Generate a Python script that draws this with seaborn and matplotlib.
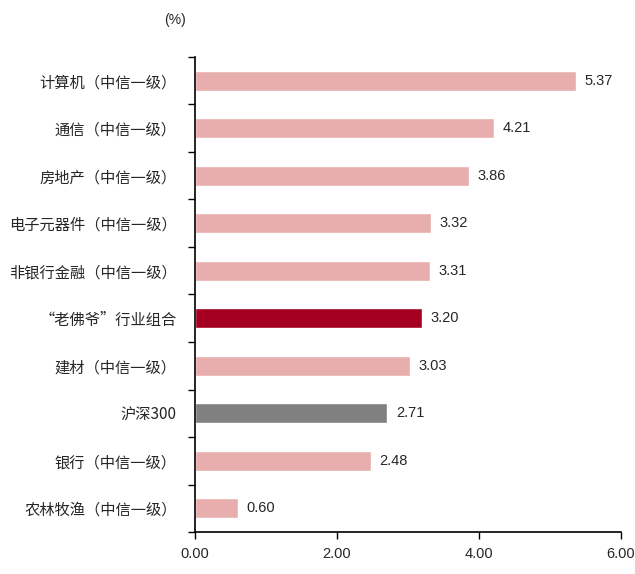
import matplotlib
matplotlib.use("Agg")
import matplotlib.pyplot as plt
import seaborn as sns
import pandas as pd
import numpy as np
from matplotlib.ticker import FixedLocator

sns.set_theme(style="white")
plt.rcParams['font.family'] = ['Noto Sans CJK SC', 'DejaVu Sans']

categories = ["计算机（中信一级）", "通信（中信一级）", "房地产（中信一级）", "电子元器件（中信一级）",
              "非银行金融（中信一级）", "“老佛爷”行业组合", "建材（中信一级）", "沪深300",
              "银行（中信一级）", "农林牧渔（中信一级）"]
values = [5.37, 4.21, 3.86, 3.32, 3.31, 3.20, 3.03, 2.71, 2.48, 0.60]
xticks = [0, 2, 4, 6]

pink, red, gray = "#E8ADAD", "#A50021", "#808080"
palette = {c: pink for c in categories}
palette["“老佛爷”行业组合"] = red
palette["沪深300"] = gray

df = pd.DataFrame({"cat": categories, "val": values})

fig = plt.figure(figsize=(6.35, 5.74), dpi=100)
ax = fig.add_axes([0.307, 0.073, 0.671, 0.828])
sns.barplot(data=df, x="val", y="cat", hue="cat", palette=palette, orient="h",
            width=0.42, legend=False, ax=ax, saturation=1)

num_font = ['Liberation Sans Narrow', 'Liberation Sans', 'DejaVu Sans']
ax.set_xlim(0, 6)
ax.set_ylim(len(categories) - 0.5, -0.5)
ax.set_xticks(xticks)
ax.set_xticklabels([f"{v:.2f}" for v in xticks], fontsize=10.5, family=num_font)
ax.set_xlabel("")
ax.set_ylabel("")
ax.tick_params(axis='y', which='major', length=0, labelsize=11, pad=13)
ax.yaxis.set_minor_locator(FixedLocator(np.arange(-0.5, len(categories), 1)))
ax.tick_params(axis='y', which='minor', length=5, width=1, direction='out', left=True, color='black')
ax.tick_params(axis='x', which='major', length=5, width=1, direction='out', bottom=True, color='black', pad=6)

for s in ["top", "right"]:
    ax.spines[s].set_visible(False)
for s in ["left", "bottom"]:
    ax.spines[s].set_color("black")
    ax.spines[s].set_linewidth(1.2)

for i, v in enumerate(values):
    ax.text(v + 0.12, i, f"{v:.2f}", va="center", ha="left", fontsize=10.5, family=num_font)

fig.text(175 / 635, 1 - 20 / 574, "(%)", ha="center", va="center", fontsize=10, family=num_font)

fig.savefig("out.png", dpi=100)
